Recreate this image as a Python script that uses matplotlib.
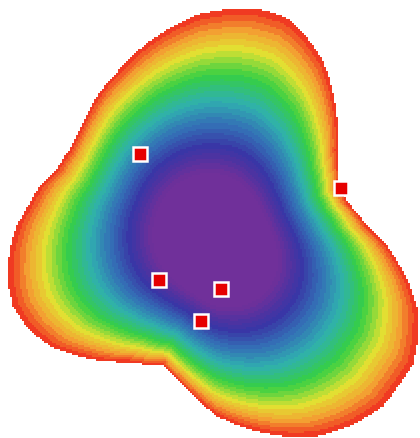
import numpy as np
import matplotlib.pyplot as plt
from matplotlib.colors import LinearSegmentedColormap, BoundaryNorm

# outline of the coloured region, image pixels, clockwise from the top
edge_x = [230, 257, 285, 300, 323, 335, 337, 338, 347, 367, 387, 400, 410, 418,
          417, 413, 403, 383, 350, 317, 283, 243, 217, 197, 180, 163, 127, 83,
          50, 27, 13, 8, 10, 17, 28, 40, 57, 70, 80, 90, 100, 120, 140, 160, 200]
edge_y = [10, 10, 18, 30, 62, 105, 150, 187, 203, 227, 247, 267, 287, 313,
          345, 365, 380, 407, 427, 437, 437, 428, 417, 400, 383, 365, 363, 358,
          347, 328, 307, 283, 250, 227, 207, 187, 170, 150, 130, 110, 93, 70,
          50, 35, 15]

# bottom of the basin (purple)
center_x, center_y = 215, 245

# square markers
pts_x = [140, 341, 159, 221, 201]
pts_y = [155, 189, 281, 290, 322]

# colour ramp: value 0 = basin, 1 = outer edge
stops = [0.0, 0.33, 0.45, 0.55, 0.65, 0.76, 0.86, 0.93, 1.0]
colors = ['#70309a', '#70309a', '#3a36a6', '#3470b6', '#30b0b0',
          '#36d044', '#e2e232', '#f4a032', '#f03a22']
cmap = LinearSegmentedColormap.from_list('ramp', list(zip(stops, colors)))
cmap.set_bad('white')
levels = np.linspace(0, 1, 46)
norm = BoundaryNorm(levels, cmap.N)

# outline radius as a function of angle around the basin
ex = np.array(edge_x, float) - center_x
ey = np.array(edge_y, float) - center_y
ang = np.arctan2(ey, ex)
rad = np.hypot(ex, ey)
order = np.argsort(ang)
ang, rad = ang[order], rad[order]

# smoothed outline for the inner rings (keep only the low harmonics)
th = np.linspace(-np.pi, np.pi, 720, endpoint=False)
spec = np.fft.rfft(np.interp(th, ang, rad, period=2 * np.pi))
spec[3:] = 0
rad_s = np.fft.irfft(spec, n=th.size)

step = 2
xs = np.arange(0, 420, step) + step / 2
ys = np.arange(0, 440, step) + step / 2
X, Y = np.meshgrid(xs, ys)
dx, dy = X - center_x, Y - center_y
theta = np.arctan2(dy, dx)
r = np.hypot(dx, dy)
R = np.interp(theta, ang, rad, period=2 * np.pi)
Rs = np.interp(theta, th, rad_s, period=2 * np.pi)

# level t: ring of radius t * (Rs + (R - Rs) * t**p), solved by bisection
p = 1.5
lo = np.zeros_like(r)
hi = np.full_like(r, 1.6)
for _ in range(40):
    mid = (lo + hi) / 2
    g = mid * (Rs + (R - Rs) * mid ** p)
    below = g < r
    lo = np.where(below, mid, lo)
    hi = np.where(below, hi, mid)
f = np.ma.masked_where(lo > 1, lo)

fig = plt.figure(figsize=(4.2, 4.39), dpi=100)
ax = fig.add_axes([0, 0, 1, 1])
ax.imshow(f, cmap=cmap, norm=norm, extent=(0, 420, 440, 0),
          interpolation='nearest', origin='upper')
ax.plot(pts_x, pts_y, 's', ms=9.5, mfc='#e60000', mec='white', mew=1.8)
ax.set_xlim(0, 420)
ax.set_ylim(439, 0)
ax.axis('off')
fig.savefig('out.png', dpi=100, facecolor='white')
